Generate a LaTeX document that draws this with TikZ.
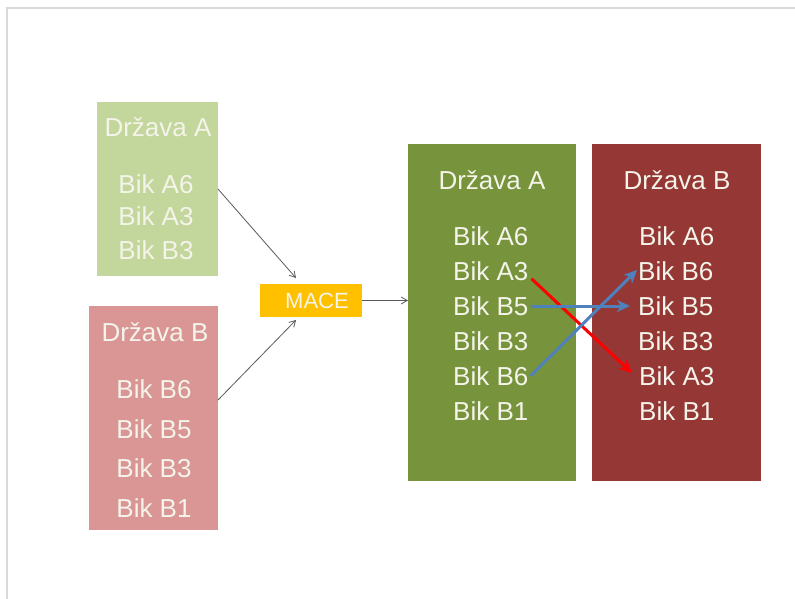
\documentclass[tikz,border=0pt]{standalone}
\usepackage{fontspec}
\setmainfont{Liberation Sans}
\usetikzlibrary{arrows.meta,calc}
\definecolor{lgreen}{HTML}{C3D69B}
\definecolor{lpink}{HTML}{D99694}
\definecolor{dgreen}{HTML}{77933C}
\definecolor{dred}{HTML}{953735}
\definecolor{mace}{HTML}{FFC000}
\definecolor{blu}{HTML}{4F81BD}
\definecolor{txt}{HTML}{F4F4EA}
\definecolor{frame}{HTML}{D9D9D9}
\begin{document}
\begin{tikzpicture}[x=1pt,y=-1pt,
  lbl/.style={text=txt,inner sep=0pt,font=\fontsize{26}{30}\selectfont},
  thinarr/.style={draw=black!65,line width=0.8pt,-{Straight Barb[length=6pt,width=7pt]}},
  bigarr/.style={line width=3pt,-{Stealth[length=13pt,width=12pt,inset=4pt]}}]
\useasboundingbox (0,0) rectangle (795,599);
\draw[frame,line width=1.6pt] (7,599) -- (7,8) -- (795,8);
% boxes
\fill[lgreen] (97,102) rectangle (218,276);
\fill[lpink] (89,306) rectangle (218,530);
\fill[dgreen] (408,144) rectangle (576,481);
\fill[dred] (592,144) rectangle (761,481);
\node[fill=mace,minimum width=102pt,minimum height=33pt,inner sep=0pt] (mace) at (311,300.5) {};
\node[text=txt,inner sep=0pt,font=\fontsize{22}{26}\selectfont] (macet) at (317,300.5) {MACE};
% left A
\node[lbl] (la) at (158,127) {Država A};
\node[lbl] (la6) at (156,184) {Bik A6};
\node[lbl] (la3) at (156,216) {Bik A3};
\node[lbl] (lb3) at (156,250) {Bik B3};
% left B
\node[lbl] (lb) at (155,332) {Država B};
\node[lbl] (lb6) at (154,389) {Bik B6};
\node[lbl] (lb5) at (154,429) {Bik B5};
\node[lbl] (lbb3) at (154,468) {Bik B3};
\node[lbl] (lb1) at (154,508) {Bik B1};
% big A
\node[lbl] (ga) at (492,180) {Država A};
\node[lbl,anchor=west] (gA6) at (453,236) {Bik A6};
\node[lbl,anchor=west] (gA3) at (453,271) {Bik A3};
\node[lbl,anchor=west] (gB5) at (453,306) {Bik B5};
\node[lbl,anchor=west] (gB3) at (453,341) {Bik B3};
\node[lbl,anchor=west] (gB6) at (453,376) {Bik B6};
\node[lbl,anchor=west] (gB1) at (453,411) {Bik B1};
% big B
\node[lbl] (rb) at (677,180) {Država B};
\node[lbl,anchor=west] (rA6) at (639,236) {Bik A6};
\node[lbl,anchor=west] (rB6) at (638,271) {Bik B6};
\node[lbl,anchor=west] (rB5) at (638,306) {Bik B5};
\node[lbl,anchor=west] (rB3) at (638,341) {Bik B3};
\node[lbl,anchor=west] (rA3) at (639,376) {Bik A3};
\node[lbl,anchor=west] (rB1) at (639,411) {Bik B1};
% gray connectors
\coordinate (ma) at (296,278);
\coordinate (mb) at (296,320);
\draw[thinarr] (218,189) -- (ma);
\draw[thinarr] (218,400) -- (mb);
\draw[thinarr] (mace.east) -- (408,300.5);
% coloured arrows
\draw[bigarr,draw=red,fill=red] ([shift={(3,-2)}]gA3.south east) -- ([shift={(-7,-3)}]rA3.west);
\draw[bigarr,draw=blu,fill=blu] ([xshift=2pt]gB5.east) -- ([xshift=-8pt]rB5.west);
\draw[bigarr,draw=blu,fill=blu] ([xshift=2pt]gB6.east) -- ([shift={(-1,-1)}]rB6.west);
\end{tikzpicture}
\end{document}
